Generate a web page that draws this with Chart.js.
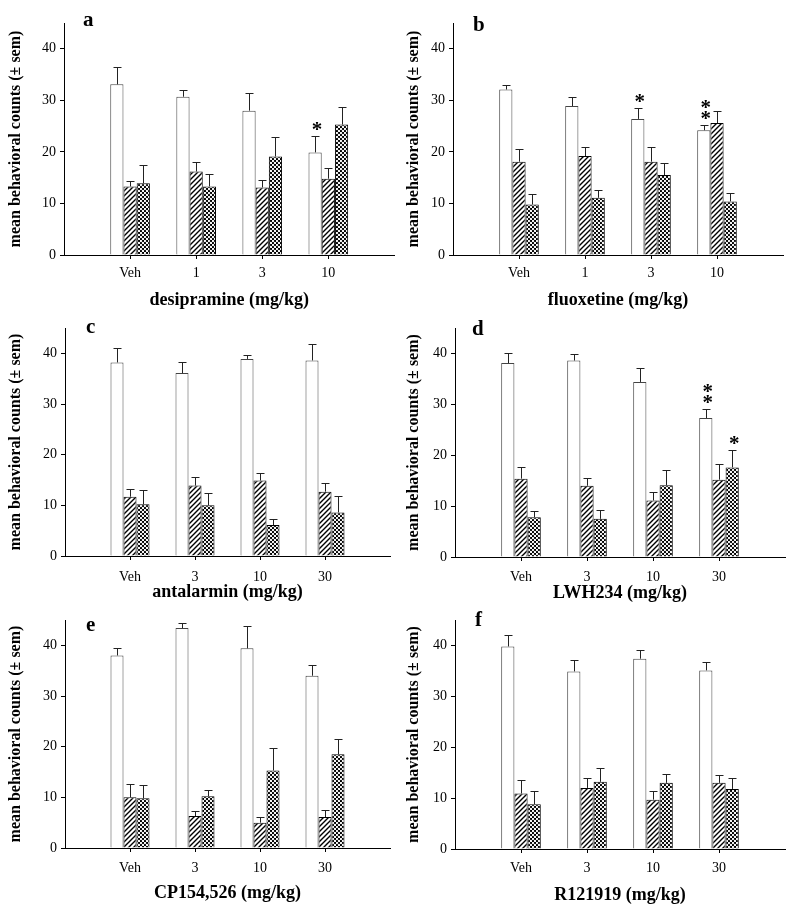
<!DOCTYPE html>
<html>
<head>
<meta charset="utf-8">
<script src="https://cdn.jsdelivr.net/npm/chart.js@4/dist/chart.umd.min.js"></script>
<style>
body { margin: 0; background: #fff; width: 799px; height: 917px; position: relative; overflow: hidden; }
canvas { position: absolute; }
</style>
</head>
<body>
<script>
// doses
var cats1 = ['Veh', '1', '3', '10'];
var cats2 = ['Veh', '3', '10', '30'];

// a: desipramine
var desiOpen = [33.1, 30.7, 28.0, 19.9];
var desiOpenSem = [3.4, 1.4, 3.4, 3.1];
var desiHatch = [13.3, 16.2, 13.1, 14.8];
var desiHatchSem = [1.1, 1.9, 1.5, 2.0];
var desiCheck = [13.9, 13.3, 19.1, 25.3];
var desiCheckSem = [3.6, 2.4, 3.7, 3.5];
var desiStars = [[3, 0, 1]];          // [dose index, series, number of *]

// b: fluoxetine
var fluoOpen = [32.1, 28.9, 26.4, 24.2];
var fluoOpenSem = [0.9, 1.7, 2.1, 1.0];
var fluoHatch = [18.1, 19.2, 18.1, 25.6];
var fluoHatchSem = [2.4, 1.7, 2.8, 2.4];
var fluoCheck = [9.8, 11.1, 15.5, 10.4];
var fluoCheckSem = [2.1, 1.6, 2.3, 1.7];
var fluoStars = [[2, 0, 1], [3, 0, 2]];

// c: antalarmin
var antaOpen = [38.2, 36.1, 38.9, 38.6];
var antaOpenSem = [2.9, 2.1, 0.7, 3.3];
var antaHatch = [11.7, 13.9, 14.9, 12.7];
var antaHatchSem = [1.6, 1.7, 1.4, 1.7];
var antaCheck = [10.2, 10.0, 6.1, 8.6];
var antaCheckSem = [2.9, 2.4, 1.3, 3.3];
var antaStars = [];

// d: LWH234
var lwhOpen = [38.1, 38.6, 34.4, 27.3];
var lwhOpenSem = [2.0, 1.3, 2.7, 1.7];
var lwhHatch = [15.4, 14.0, 11.1, 15.2];
var lwhHatchSem = [2.3, 1.5, 1.6, 3.0];
var lwhCheck = [7.8, 7.5, 14.1, 17.6];
var lwhCheckSem = [1.2, 1.7, 3.0, 3.5];
var lwhStars = [[3, 0, 2], [3, 2, 1]];

// e: CP154,526
var cpOpen = [38.0, 43.4, 39.4, 34.0];
var cpOpenSem = [1.4, 1.0, 4.5, 2.2];
var cpHatch = [10.0, 6.3, 5.0, 6.1];
var cpHatchSem = [2.7, 1.0, 1.1, 1.4];
var cpCheck = [9.8, 10.2, 15.3, 18.5];
var cpCheckSem = [2.6, 1.3, 4.5, 3.0];
var cpStars = [];

// f: R121919
var rOpen = [39.8, 34.9, 37.4, 35.1];
var rOpenSem = [2.2, 2.3, 1.8, 1.6];
var rHatch = [10.9, 12.0, 9.7, 13.0];
var rHatchSem = [2.6, 2.0, 1.6, 1.5];
var rCheck = [8.8, 13.2, 13.0, 11.8];
var rCheckSem = [2.5, 2.7, 1.7, 2.2];
var rStars = [];

var yTitle = 'mean behavioral counts (\u00b1 sem)';

Chart.defaults.font.family = '"Liberation Serif", "Times New Roman", serif';
Chart.defaults.color = '#000';

function makeHatch() {
    var c = document.createElement('canvas');
    c.width = 5; c.height = 5;
    var g = c.getContext('2d');
    g.fillStyle = '#fff';
    g.fillRect(0, 0, 5, 5);
    g.strokeStyle = '#000';
    g.lineWidth = 1.4;
    g.beginPath();
    g.moveTo(0, 5); g.lineTo(5, 0);
    g.moveTo(-1, 1); g.lineTo(1, -1);
    g.moveTo(4, 6); g.lineTo(6, 4);
    g.stroke();
    return g.createPattern(c, 'repeat');
}

function makeCheck() {
    var c = document.createElement('canvas');
    c.width = 4; c.height = 4;
    var g = c.getContext('2d');
    g.fillStyle = '#000';
    g.fillRect(0, 0, 4, 4);
    g.fillStyle = '#fff';
    g.beginPath(); g.arc(1, 1, 1.15, 0, Math.PI * 2); g.fill();
    g.beginPath(); g.arc(3, 3, 1.15, 0, Math.PI * 2); g.fill();
    return g.createPattern(c, 'repeat');
}

var hatch = makeHatch();
var check = makeCheck();

// pad with an empty slot at both ends of the dose axis
function pad(arr) { return [null].concat(arr, [null]); }

var errPlugin = {
    id: 'errbars',
    afterDatasetsDraw: function (chart, args, opts) {
        var ctx = chart.ctx;
        var y = chart.scales.y;
        ctx.save();
        ctx.strokeStyle = '#222';
        ctx.lineWidth = 1;
        var tops = [];
        chart.data.datasets.forEach(function (ds, di) {
            var meta = chart.getDatasetMeta(di);
            tops[di] = [];
            meta.data.forEach(function (bar, i) {
                var v = ds.data[i];
                if (v == null) return;
                var top = Math.round(y.getPixelForValue(v + ds.sem[i])) + 0.5;
                var x = Math.round(bar.x) + 0.5;
                tops[di][i] = { x: bar.x, y: top };
                ctx.beginPath();
                ctx.moveTo(x, bar.y);
                ctx.lineTo(x, top);
                ctx.moveTo(x - 4, top);
                ctx.lineTo(x + 4, top);
                ctx.stroke();
            });
        });
        // significance stars
        ctx.fillStyle = '#000';
        ctx.font = 'bold 21px "Liberation Serif", serif';
        ctx.textAlign = 'center';
        ctx.textBaseline = 'alphabetic';
        (opts.stars || []).forEach(function (s) {
            var t = tops[s[1]][s[0] + 1];
            for (var k = 0; k < s[2]; k++) {
                ctx.fillText('*', t.x + 2, t.y - 1 - k * 11);
            }
        });
        // panel letter
        ctx.font = 'bold 21px "Liberation Serif", serif';
        ctx.textAlign = 'left';
        ctx.fillText(opts.letter, opts.lx, opts.ly);
        ctx.restore();
    }
};

var panels = [
    { letter: 'a', title: 'desipramine (mg/kg)', cats: cats1, stars: desiStars,
      open: desiOpen, openSem: desiOpenSem, hatch: desiHatch, hatchSem: desiHatchSem, check: desiCheck, checkSem: desiCheckSem,
      x0: 0, x1: 400, y0: 0, axisX: 64, axisTop: 23, base: 255, axisRight: 395, yTitleX: 16, tickY: 273, xTitleY: 300, lx: 83, ly: 26 },
    { letter: 'b', title: 'fluoxetine (mg/kg)', cats: cats1, stars: fluoStars,
      open: fluoOpen, openSem: fluoOpenSem, hatch: fluoHatch, hatchSem: fluoHatchSem, check: fluoCheck, checkSem: fluoCheckSem,
      x0: 400, x1: 799, y0: 0, axisX: 453, axisTop: 23, base: 255, axisRight: 783, yTitleX: 414, tickY: 273, xTitleY: 300, lx: 473, ly: 31 },
    { letter: 'c', title: 'antalarmin (mg/kg)', cats: cats2, stars: antaStars,
      open: antaOpen, openSem: antaOpenSem, hatch: antaHatch, hatchSem: antaHatchSem, check: antaCheck, checkSem: antaCheckSem,
      x0: 0, x1: 400, y0: 313, axisX: 65, axisTop: 328, base: 556, axisRight: 390, yTitleX: 16, tickY: 577, xTitleY: 592, lx: 86, ly: 333 },
    { letter: 'd', title: 'LWH234 (mg/kg)', cats: cats2, stars: lwhStars,
      open: lwhOpen, openSem: lwhOpenSem, hatch: lwhHatch, hatchSem: lwhHatchSem, check: lwhCheck, checkSem: lwhCheckSem,
      x0: 400, x1: 799, y0: 313, axisX: 455, axisTop: 328, base: 557, axisRight: 785, yTitleX: 414, tickY: 577, xTitleY: 593, lx: 472, ly: 335 },
    { letter: 'e', title: 'CP154,526 (mg/kg)', cats: cats2, stars: cpStars,
      open: cpOpen, openSem: cpOpenSem, hatch: cpHatch, hatchSem: cpHatchSem, check: cpCheck, checkSem: cpCheckSem,
      x0: 0, x1: 400, y0: 606, axisX: 65, axisTop: 620, base: 848, axisRight: 390, yTitleX: 16, tickY: 868, xTitleY: 893, lx: 86, ly: 631 },
    { letter: 'f', title: 'R121919 (mg/kg)', cats: cats2, stars: rStars,
      open: rOpen, openSem: rOpenSem, hatch: rHatch, hatchSem: rHatchSem, check: rCheck, checkSem: rCheckSem,
      x0: 400, x1: 799, y0: 606, axisX: 455, axisTop: 620, base: 849, axisRight: 785, yTitleX: 414, tickY: 868, xTitleY: 895, lx: 475, ly: 626 }
];

panels.forEach(function (p) {
    var y1 = p.xTitleY + 14;
    var w = p.x1 - p.x0, h = y1 - p.y0;
    var cv = document.createElement('canvas');
    cv.width = w; cv.height = h;
    cv.style.left = p.x0 + 'px';
    cv.style.top = p.y0 + 'px';
    document.body.appendChild(cv);

    var labels = [''].concat(p.cats, ['']);
    var last = labels.length - 1;

    new Chart(cv, {
        type: 'bar',
        data: {
            labels: labels,
            datasets: [
                { data: pad(p.open), sem: pad(p.openSem), backgroundColor: '#fff', borderColor: '#444', borderWidth: 1 },
                { data: pad(p.hatch), sem: pad(p.hatchSem), backgroundColor: hatch, borderColor: '#000', borderWidth: 1 },
                { data: pad(p.check), sem: pad(p.checkSem), backgroundColor: check, borderColor: '#000', borderWidth: 1 }
            ]
        },
        plugins: [errPlugin],
        options: {
            responsive: false,
            animation: false,
            events: [],
            devicePixelRatio: 1,
            datasets: { bar: { categoryPercentage: 0.6, barPercentage: 1.0 } },
            layout: { padding: { left: 0, bottom: 0, top: p.axisTop - p.y0, right: p.x1 - p.axisRight } },
            plugins: {
                legend: { display: false },
                tooltip: { enabled: false },
                errbars: { stars: p.stars, letter: p.letter, lx: p.lx - p.x0, ly: p.ly - p.y0 }
            },
            scales: {
                x: {
                    offset: false,
                    grid: {
                        offset: false,
                        drawOnChartArea: false,
                        drawTicks: true,
                        tickLength: 4,
                        tickColor: function (c) { return (c.index === 0 || c.index === last) ? 'rgba(0,0,0,0)' : '#000'; }
                    },
                    border: { display: true, color: '#000', width: 1 },
                    ticks: { autoSkip: false, maxRotation: 0, font: { size: 14 }, padding: p.tickY - p.base - 4 - 8.4 },
                    title: {
                        display: true, text: p.title,
                        font: { size: 18, weight: 'bold' },
                        padding: { top: 0, bottom: y1 - p.xTitleY - 10.8 }
                    },
                    afterFit: function (s) { s.height = y1 - p.base; }
                },
                y: {
                    min: 0, max: 45,
                    grid: { drawOnChartArea: false, drawTicks: true, tickLength: 4, color: '#000' },
                    border: { display: true, color: '#000', width: 1 },
                    ticks: { stepSize: 10, includeBounds: false, font: { size: 14 }, padding: 4 },
                    title: {
                        display: true, text: yTitle,
                        font: { size: 16, weight: 'bold' },
                        padding: { top: p.yTitleX - p.x0 - 9.6, bottom: 0 }
                    },
                    afterFit: function (s) { s.width = p.axisX - p.x0; }
                }
            }
        }
    });
});
</script>
</body>
</html>
